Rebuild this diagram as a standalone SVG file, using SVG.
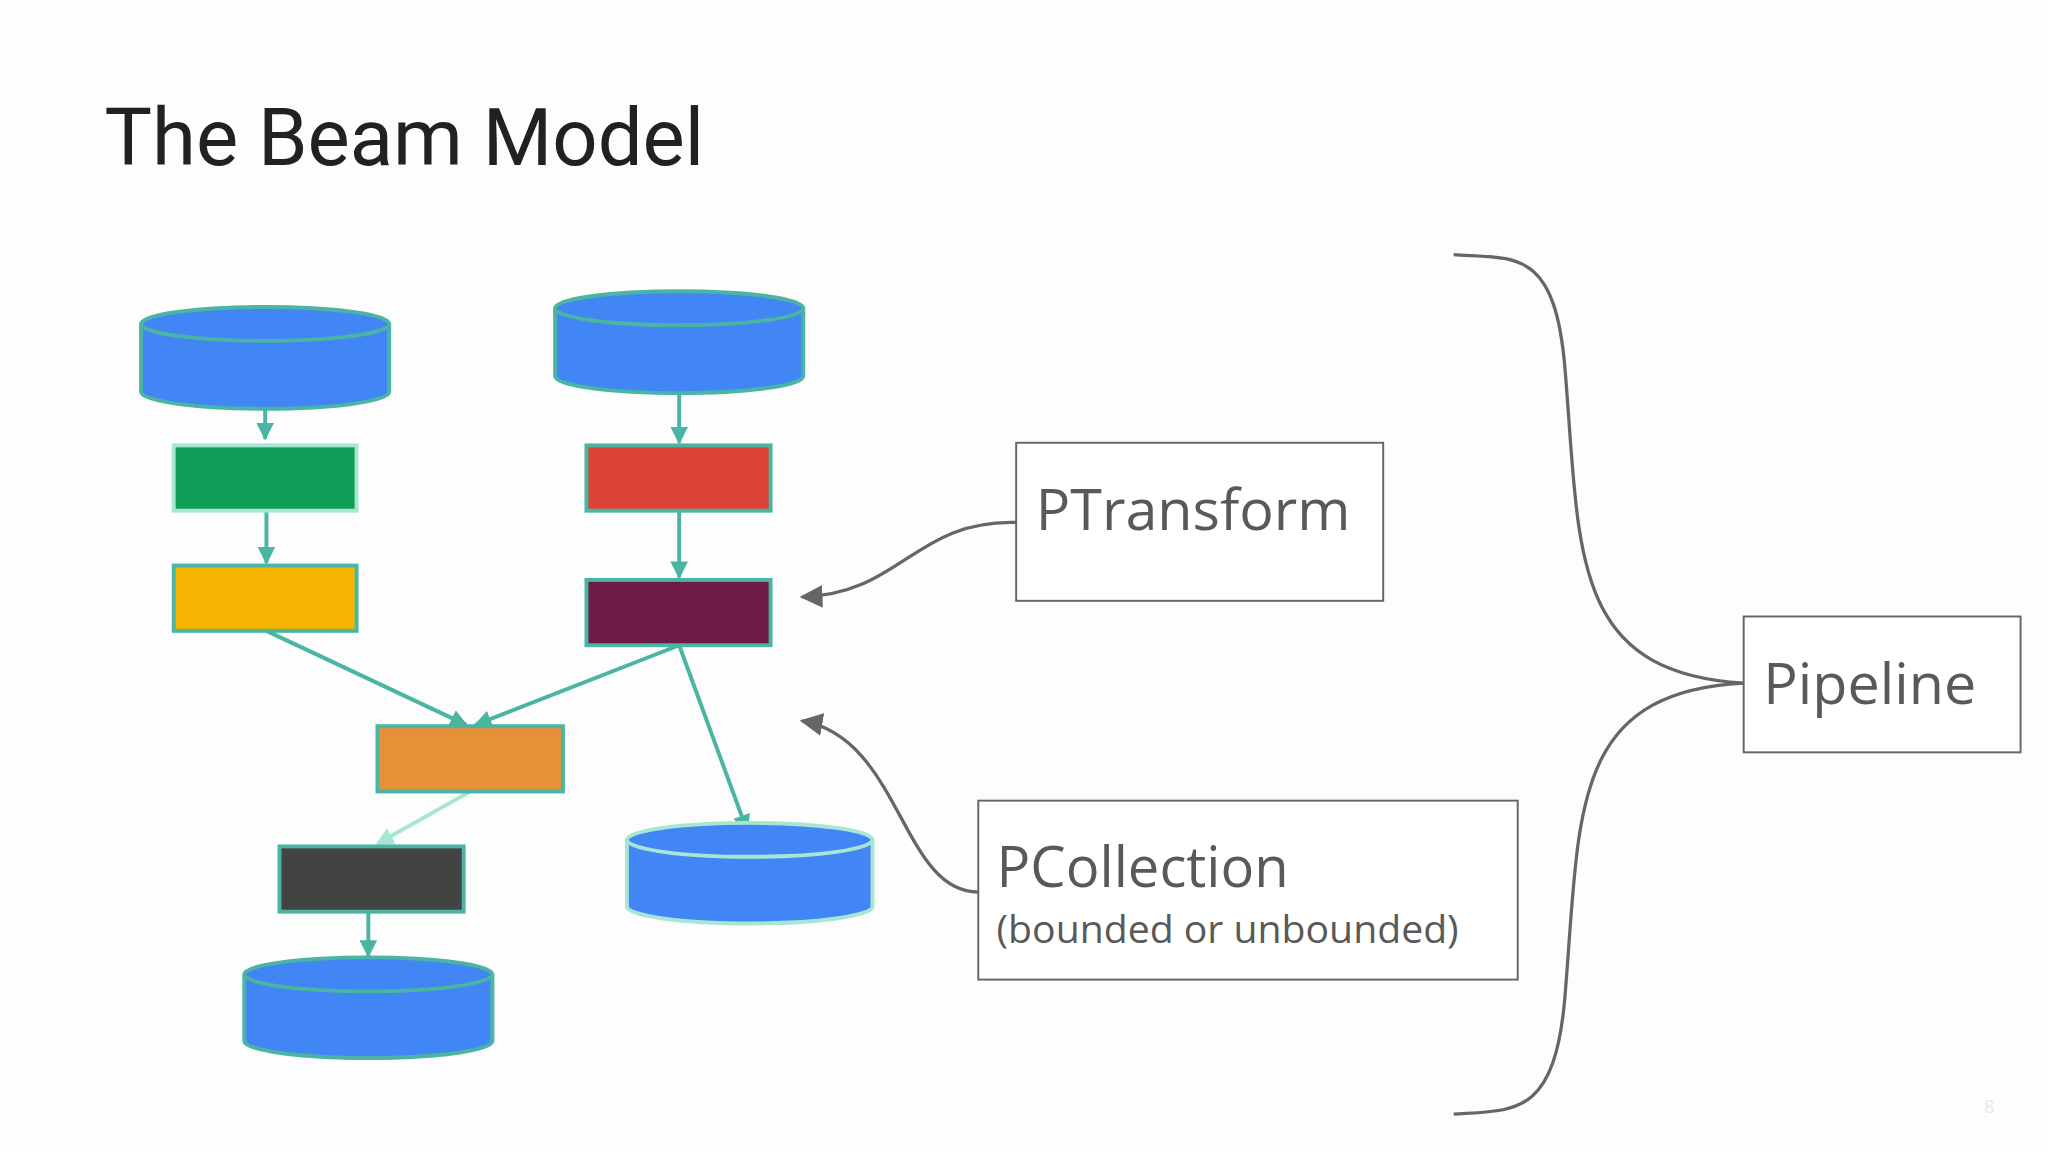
<svg xmlns="http://www.w3.org/2000/svg" width="2048" height="1152" viewBox="0 0 2048 1152">
<defs>
<style>
.cyl{fill:#4285f4;stroke:#4ab5a3;stroke-width:3}
.box{stroke:#4ab5a3;stroke-width:3}
.con{stroke:#4ab5a3;stroke-width:3;fill:none;marker-end:url(#ta)}
.gl{stroke:#666;stroke-width:2.5;fill:none}
.lb{fill:#fff;stroke:#666;stroke-width:1.5}
.t{font-family:"Open Sans","Noto Sans",sans-serif;fill:#595959}
</style>
<marker id="ta" viewBox="0 0 10 10" refX="9" refY="5" markerWidth="4.5" markerHeight="4.5" orient="auto"><path d="M0,0L10,5L0,10z" fill="#4ab5a3"/></marker>
<marker id="la" viewBox="0 0 10 10" refX="9" refY="5" markerWidth="4.5" markerHeight="4.5" orient="auto"><path d="M0,0L10,5L0,10z" fill="#a8e6d4"/></marker>
<marker id="ga" viewBox="0 0 10 10" refX="9" refY="5" markerWidth="7" markerHeight="7" orient="auto"><path d="M0,0L10,5L0,10z" fill="#666"/></marker>
</defs>
<rect width="2048" height="1152" fill="#fdfdfd"/>
<g transform="scale(1.30612)">
<text x="80" y="126" font-family="Roboto,sans-serif" font-size="61" fill="#212121">The Beam Model</text>
<g id="connectors">
<line class="con" x1="203" y1="313" x2="203" y2="336"/>
<line class="con" x1="204" y1="391" x2="204" y2="431"/>
<line class="con" x1="520" y1="301" x2="520" y2="339"/>
<line class="con" x1="520" y1="391" x2="520" y2="442"/>
<line class="con" x1="204" y1="483" x2="357" y2="555"/>
<line class="con" x1="520" y1="494" x2="364" y2="555"/>
<line class="con" x1="520" y1="494" x2="572" y2="636"/>
<line x1="360" y1="606" x2="289" y2="646" stroke="#a8e6d4" stroke-width="3" marker-end="url(#la)"/>
<line class="con" x1="282" y1="698" x2="282" y2="732"/>
<path class="gl" d="M778,400 C700,398 690,455 614,457" marker-end="url(#ga)"/>
<path class="gl" d="M749,683 C690,683 690,565 614,552" marker-end="url(#ga)"/>
<path class="gl" d="M1113,195 C1160,198 1190,190 1198,280 C1210,420 1200,515 1335,523 C1200,530 1210,625 1198,765 C1190,855 1160,850 1113,853"/>
</g>
<g id="c1"><path class="cyl" d="M108,248 V300 A95,13 0 0 0 298,300 V248"/><ellipse class="cyl" cx="203" cy="248" rx="95" ry="13"/></g>
<g id="c2"><path class="cyl" d="M425,236 V288 A95,13 0 0 0 615,288 V236"/><ellipse class="cyl" cx="520" cy="236" rx="95" ry="13"/></g>
<g id="c3"><path class="cyl" d="M480,643 V694 A94,13 0 0 0 668,694 V643" style="stroke:#a8e6d4"/><ellipse class="cyl" cx="574" cy="643" rx="94" ry="13" style="stroke:#a8e6d4"/></g>
<g id="c4"><path class="cyl" d="M187,746 V797 A95,13 0 0 0 377,797 V746"/><ellipse class="cyl" cx="282" cy="746" rx="95" ry="13"/></g>
<g id="green"><rect class="box" x="133" y="341" width="140" height="50" fill="#0f9d58" style="stroke:#a8e6d4"/></g>
<g id="yellow"><rect class="box" x="133" y="433" width="140" height="50" fill="#f4b400"/></g>
<g id="red"><rect class="box" x="449" y="341" width="141" height="50" fill="#db4437"/></g>
<g id="maroon"><rect class="box" x="449" y="444" width="141" height="50" fill="#6d1a46"/></g>
<g id="orange"><rect class="box" x="289" y="556" width="142" height="50" fill="#e69138"/></g>
<g id="dark"><rect class="box" x="214" y="648" width="141" height="50" fill="#434343"/></g>
<g id="ptransform"><rect class="lb" x="778" y="339" width="281" height="121"/><text class="t" x="793" y="406" font-size="44">PTransform</text></g>
<g id="pcollection"><rect class="lb" x="749" y="613" width="413" height="137"/><text class="t" x="763" y="679" font-size="43">PCollection</text><text class="t" x="763" y="722" font-size="30">(bounded or unbounded)</text></g>
<g id="pipeline"><rect class="lb" x="1335" y="472" width="212" height="104"/><text class="t" x="1350" y="539" font-size="44">Pipeline</text></g>
<text x="1519" y="852" font-family="Open Sans,sans-serif" font-size="14" fill="#e8e8e8">8</text>
</g>
</svg>
